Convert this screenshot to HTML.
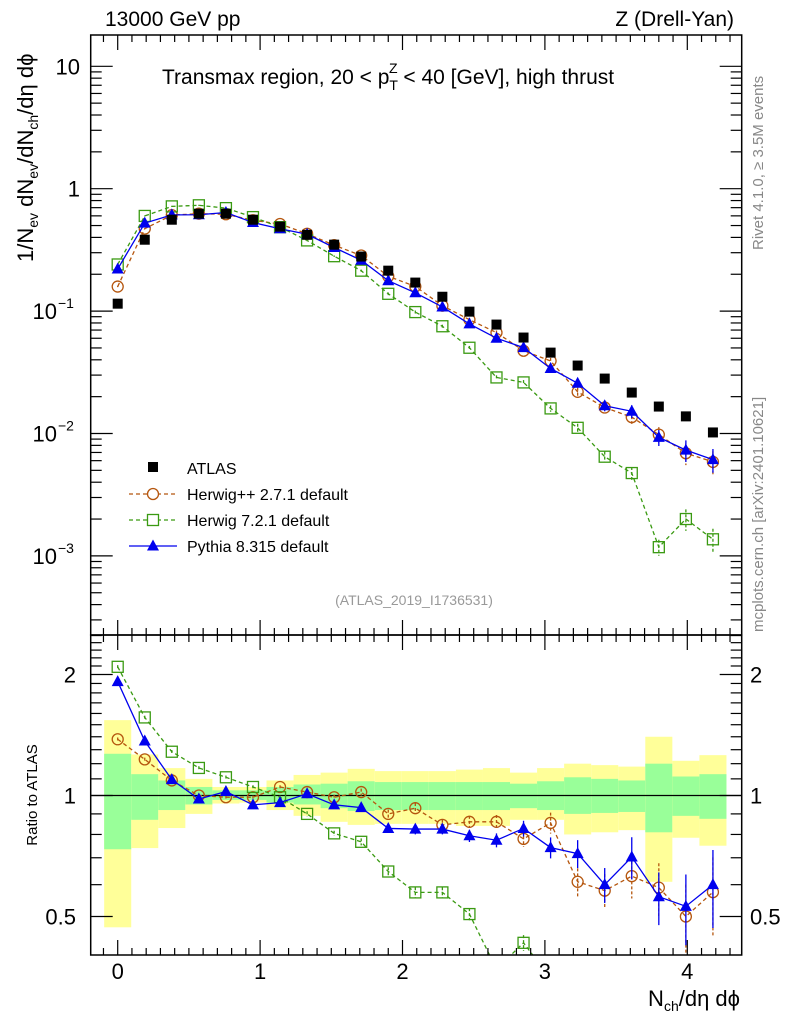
<!DOCTYPE html>
<html><head><meta charset="utf-8"><style>
html,body{margin:0;background:#fff;width:786px;height:1024px;overflow:hidden}
svg{display:block;font-family:"Liberation Sans",sans-serif}
</style>
</head><body>
<svg id="chartSvg" width="786" height="1024" viewBox="0 0 786 1024">
<defs>
<clipPath id="clipMain"><rect x="90.7" y="35" width="651" height="600"/></clipPath>
<clipPath id="clipRatio"><rect x="90.7" y="635" width="651" height="320"/></clipPath>
</defs>
<g id="bandLayer" clip-path="url(#clipRatio)"></g>
<g id="mainMarks" clip-path="url(#clipMain)"></g>
<g id="ratioMarks" clip-path="url(#clipRatio)"></g>
<g id="axisLayer"></g>
<rect x="90.7" y="35" width="651" height="600" fill="none" stroke="#000" stroke-width="1.5"/>
<rect x="90.7" y="635" width="651" height="320" fill="none" stroke="#000" stroke-width="1.5"/>
<text x="105" y="26" font-size="21">13000 GeV pp</text>
<text x="734" y="26" font-size="21" text-anchor="end">Z (Drell-Yan)</text>
<text x="162" y="84" font-size="21">Transmax region, 20 &lt; p<tspan font-size="14" dy="6">T</tspan><tspan font-size="14" dx="-9" dy="-17">Z</tspan><tspan dy="11"> &lt; 40 [GeV], high thrust</tspan></text>
<text x="414" y="605" font-size="14" fill="#999" text-anchor="middle">(ATLAS_2019_I1736531)</text>
<text transform="translate(763,250) rotate(-90)" font-size="15" fill="#888">Rivet 4.1.0, ≥ 3.5M events</text>
<text transform="translate(763,632) rotate(-90)" font-size="15" fill="#888">mcplots.cern.ch [arXiv:2401.10621]</text>
<text transform="translate(33,262) rotate(-90)" font-size="22" text-anchor="start">1/N<tspan font-size="14" dy="5">ev</tspan><tspan dy="-5"> dN</tspan><tspan font-size="14" dy="5">ev</tspan><tspan dy="-5">/dN</tspan><tspan font-size="14" dy="5">ch</tspan><tspan dy="-5">/dη dϕ</tspan></text>
<text transform="translate(37,795) rotate(-90)" font-size="15" text-anchor="middle">Ratio to ATLAS</text>
<text x="740" y="1006" font-size="22" text-anchor="end">N<tspan font-size="14" dy="5">ch</tspan><tspan dy="-5">/dη dϕ</tspan></text>
<g>
<rect x="148" y="462" width="10" height="10" fill="#000"/>
<text x="187" y="474" font-size="16">ATLAS</text>
<line x1="129" x2="177" y1="494" y2="494" stroke="#b5560e" stroke-width="1.3" stroke-dasharray="4,3"/>
<circle cx="153" cy="494" r="5.5" fill="#fff" stroke="#b5560e" stroke-width="1.3"/>
<text x="187" y="500" font-size="16">Herwig++ 2.7.1 default</text>
<line x1="129" x2="177" y1="520" y2="520" stroke="#3a9a12" stroke-width="1.3" stroke-dasharray="4,3"/>
<rect x="147.5" y="514.5" width="11" height="11" fill="#fff" stroke="#3a9a12" stroke-width="1.3"/>
<text x="187" y="526" font-size="16">Herwig 7.2.1 default</text>
<line x1="129" x2="177" y1="546" y2="546" stroke="#0000ee" stroke-width="1.3"/>
<polygon points="153,539.5 147,550.5 159,550.5" fill="#0000ee"/>
<text x="187" y="552" font-size="16">Pythia 8.315 default</text>
</g>
</svg>
<script>
var xValues=[0,0.19,0.38,0.57,0.76,0.95,1.14,1.33,1.52,1.71,1.9,2.09,2.28,2.47,2.66,2.85,3.04,3.23,3.42,3.61,3.8,3.99,4.18];
var atlasValues=[0.115,0.383,0.558,0.625,0.625,0.558,0.49,0.42,0.349,0.279,0.214,0.171,0.131,0.099,0.0776,0.0608,0.0458,0.0359,0.0281,0.0216,0.0166,0.0138,0.0102];
var herwigppRatio=[1.38,1.23,1.09,1.0,0.99,0.99,1.05,1.02,0.99,1.02,0.90,0.93,0.845,0.86,0.86,0.78,0.855,0.61,0.58,0.63,0.59,0.50,0.575];
var herwig7Ratio=[2.09,1.564,1.285,1.171,1.11,1.05,0.99,0.90,0.805,0.767,0.647,0.574,0.574,0.507,0.37,0.43,0.35,0.31,0.23,0.22,0.071,0.145,0.134];
var pythiaRatio=[1.92,1.366,1.095,0.98,1.023,0.948,0.96,1.01,0.948,0.933,0.828,0.825,0.825,0.794,0.774,0.828,0.742,0.717,0.60,0.703,0.56,0.53,0.60];
var mcRelErr=[0.01,0.01,0.01,0.01,0.01,0.01,0.01,0.015,0.015,0.02,0.025,0.03,0.03,0.035,0.04,0.045,0.06,0.08,0.1,0.12,0.15,0.2,0.22];
var bandYellowHi=[1.54,1.265,1.17,1.1,1.05,1.05,1.09,1.125,1.14,1.165,1.15,1.15,1.15,1.16,1.17,1.14,1.17,1.2,1.19,1.18,1.4,1.22,1.26];
var bandGreenHi=[1.27,1.13,1.09,1.05,1.03,1.03,1.05,1.065,1.07,1.085,1.08,1.08,1.08,1.08,1.08,1.07,1.085,1.11,1.1,1.09,1.2,1.115,1.13];
var bandGreenLo=[0.735,0.87,0.92,0.95,0.975,0.975,0.96,0.95,0.93,0.915,0.92,0.92,0.92,0.92,0.92,0.93,0.92,0.9,0.905,0.91,0.81,0.89,0.875];
var bandYellowLo=[0.47,0.74,0.83,0.9,0.955,0.96,0.92,0.89,0.86,0.845,0.85,0.85,0.85,0.84,0.84,0.87,0.87,0.8,0.81,0.82,0.61,0.785,0.75];
var mainTickExps=[1,0,-1,-2,-3];
var ratioTickValues=[2,1,0.5];
var xTickValues=[0,1,2,3,4];
</script>
<script>
var SVGNS="http://www.w3.org/2000/svg";
function sx(v){return 117.7+v*142.4;}
function lg10(v){return Math.log(v)/Math.LN10;}
function lg2(v){return Math.log(v)/Math.LN2;}
function sm(v){return 66.3-(lg10(v)-1)*122.4;}
function sr(v){return 795.5-lg2(v)*121;}
function mkEl(p,tag,a){var e=document.createElementNS(SVGNS,tag);for(var k in a){e.setAttribute(k,String(a[k]));}p.appendChild(e);return e;}
function markerEl(g,type,x,y,col){
 if(type==='circle'){return mkEl(g,'circle',{cx:x,cy:y,r:5.5,fill:'none',stroke:col,'stroke-width':1.3});}
 if(type==='square'){return mkEl(g,'rect',{x:x-5.5,y:y-5.5,width:11,height:11,fill:'none',stroke:col,'stroke-width':1.3});}
 if(type==='tri'){return mkEl(g,'polygon',{points:x+','+(y-6.5)+' '+(x-6)+','+(y+4.5)+' '+(x+6)+','+(y+4.5),fill:col});}
 return mkEl(g,'rect',{x:x-5,y:y-5,width:10,height:10,fill:col});
}
</script>
<script>
(function(){
var gB=document.getElementById('bandLayer');
for(var i=0;i<xValues.length;i++){
 var x0=sx(xValues[i]-0.095),x1=sx(xValues[i]+0.095);
 var yb=mkEl(gB,'rect',{x:x0,y:sr(bandYellowHi[i]),width:x1-x0,height:sr(bandYellowLo[i])-sr(bandYellowHi[i]),fill:'#ffff99'});
 
 
 var gb=mkEl(gB,'rect',{x:x0,y:sr(bandGreenHi[i]),width:x1-x0,height:sr(bandGreenLo[i])-sr(bandGreenHi[i]),fill:'#99ff99'});
 
 
}
var ul=mkEl(gB,'line',{x1:90.7,x2:741.7,y1:sr(1),y2:sr(1),stroke:'#000','stroke-width':1.3});


})();
</script>
<script>
(function(){
var gMm=document.getElementById('mainMarks'),gMr=document.getElementById('ratioMarks');
var seriesList=[
 {name:'herwigpp',r:herwigppRatio,col:'#b5560e',m:'circle',dash:'4,3'},
 {name:'herwig7',r:herwig7Ratio,col:'#3a9a12',m:'square',dash:'4,3'},
 {name:'pythia',r:pythiaRatio,col:'#0000ee',m:'tri',dash:''}
];
for(var s=0;s<seriesList.length;s++){
 var S=seriesList[s];
 for(var p=0;p<2;p++){
  var g=p===0?gMm:gMr;
  var vals=[];
  for(var i=0;i<xValues.length;i++){vals.push(p===0?atlasValues[i]*S.r[i]:S.r[i]);}
  var Y=p===0?sm:sr;
  var pts=[];
  for(var i2=0;i2<xValues.length;i2++){pts.push(sx(xValues[i2])+','+Y(vals[i2]));}
  var pl=mkEl(g,'polyline',{points:pts.join(' '),fill:'none',stroke:S.col,'stroke-width':1.3});
  if(S.dash){pl.setAttribute('stroke-dasharray',S.dash);}
  
  
  for(var j=0;j<xValues.length;j++){
   var v=vals[j],er=mcRelErr[j],xx=sx(xValues[j]);
   var eb=mkEl(g,'line',{x1:xx,x2:xx,y1:Y(v*(1+er)),y2:Y(v*(1-er)),stroke:S.col,'stroke-width':1.3});
   if(S.dash){eb.setAttribute('stroke-dasharray','3,2');}
   
   
   var mm=markerEl(g,S.m,xx,Y(v),S.col);
   
   
  }
 }
}
for(var a=0;a<xValues.length;a++){
 var am=markerEl(gMm,'atlas',sx(xValues[a]),sm(atlasValues[a]),'#000');
 
 
}
})();
</script>
<script>
(function(){
var gA=document.getElementById('axisLayer');
function ln(a,b,c,d){mkEl(gA,'line',{x1:a,y1:b,x2:c,y2:d,stroke:'#000','stroke-width':1.2});}
function txt(x,y,s,size,anchor){var t=mkEl(gA,'text',{x:x,y:y,'font-size':size,'text-anchor':anchor});t.textContent=s;return t;}
for(var k=-1;k<=43;k++){var xx=sx(k/10);if(xx<=91.7||xx>=740.7){continue;}
 var len=(k%10===0)?15:7;
 ln(xx,35,xx,35+len);ln(xx,635,xx,635-len);ln(xx,635,xx,635+len);ln(xx,955,xx,955-len);}
for(var q=0;q<xTickValues.length;q++){
 var t=txt(sx(xTickValues[q]),979,String(xTickValues[q]),22,'middle');
 
 
}
for(var d=-4;d<=1;d++){for(var m=1;m<=9;m++){var yy=sm(m*Math.pow(10,d));if(yy<35||yy>635){continue;}
 var l2=m===1?22:11;ln(90.7,yy,90.7+l2,yy);ln(741.7,yy,741.7-l2,yy);}}
for(var e=0;e<mainTickExps.length;e++){
 var ex=mainTickExps[e];var y=sm(Math.pow(10,ex));var tt;
 if(ex===1){tt=txt(80,y+8,'10',22,'end');}
 else if(ex===0){tt=txt(80,y+8,'1',22,'end');}
 else{tt=txt(57,y+8,'10',22,'end');txt(58,y-3,'\u2212'+String(-ex),14,'start');}
 
 
}
var rt=[0.4,0.5,0.6,0.7,0.8,0.9,1,1.1,1.2,1.3,1.4,1.5,1.6,1.7,1.8,1.9,2,2.1,2.2,2.3,2.4,2.5];
for(var r=0;r<rt.length;r++){var ry=sr(rt[r]);if(ry<635||ry>955){continue;}
 var l3=(rt[r]===0.5||rt[r]===1||rt[r]===2)?22:11;ln(90.7,ry,90.7+l3,ry);ln(741.7,ry,741.7-l3,ry);}
for(var z=0;z<ratioTickValues.length;z++){
 var vy=sr(ratioTickValues[z])+8;
 var la=txt(76,vy,String(ratioTickValues[z]),22,'end');
 
 
 var lb=txt(750,vy,String(ratioTickValues[z]),22,'start');
 
 
}
})();
</script>
</body></html>
